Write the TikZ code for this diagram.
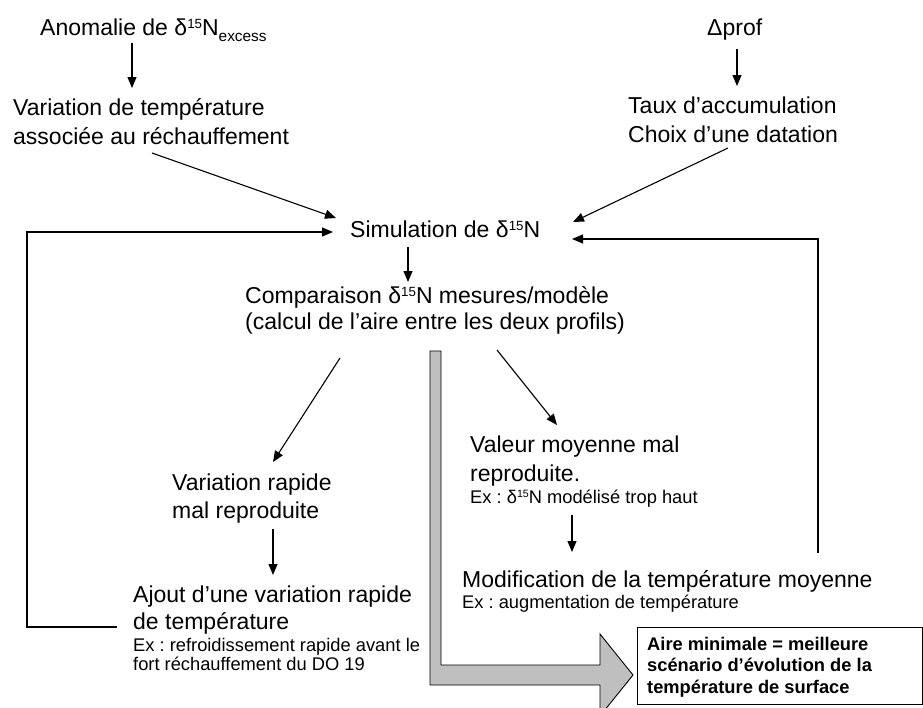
\documentclass[tikz,border=0pt]{standalone}
\usepackage{fontspec}
\usepackage{graphicx}
\setmainfont{Liberation Sans}
\usetikzlibrary{arrows.meta,calc}
\frenchspacing
\newcommand\mainsz{\fontsize{23}{29}\selectfont}
\newcommand\smallsz{\fontsize{18.3}{21}\selectfont}
\newcommand\boxsz{\fontsize{18.3}{21.5}\selectfont\bfseries}
\newcommand\dN{δ\raisebox{0.3em}{\scalebox{0.58}{15}}N}
\newcommand\subx[1]{\raisebox{-0.3em}{\scalebox{0.67}{#1}}}
\newcommand\blk[1]{\begin{tabular}[t]{@{}l@{}}#1\end{tabular}}
\tikzset{
  txt/.style={anchor=base west, inner sep=0pt, font=\mainsz},
  arr/.style={-{Triangle[length=11pt,width=9pt]}, line width=1.1pt},
  bigarrow/.style={fill=black!25, draw=black, line width=0.9pt},
  resultbox/.style={draw, line width=1.1pt, anchor=north west, inner sep=0pt,
    minimum width=285pt, minimum height=77pt},
}
\begin{document}
\begin{tikzpicture}[x=1pt,y=-1pt]
\useasboundingbox (0,0) rectangle (923,707);

% nodes
\node[txt] (anomalie) at (40,35) {Anomalie de \dN\subx{excess}};
\node[txt] (dprof) at (707,35) {Δprof};
\node[txt] (variation) at (13,115) {\blk{Variation de température\\associée au réchauffement}};
\node[txt] (taux) at (628,113) {\blk{Taux d’accumulation\\Choix d’une datation}};
\node[txt] (simulation) at (350,237) {Simulation de \dN};
\node[txt] (comparaison) at (245,303) {\blk{Comparaison \dN{} mesures/modèle\\[-3pt](calcul de l’aire entre les deux profils)}};
\node[txt] (varrapide) at (172,490) {\blk{Variation rapide\\[-1pt]mal reproduite}};
\node[txt] (valeur) at (470,452) {\blk{Valeur moyenne mal\\reproduite.\\[-7pt]{\smallsz Ex : \dN{} modélisé trop haut}}};
\node[txt] (modif) at (462,587) {\blk{Modification de la température moyenne\\[-8pt]{\smallsz Ex : augmentation de température}}};
\node[txt] (ajout) at (133,602) {\blk{Ajout d’une variation rapide\\[-2pt]de température\\[-7pt]{\smallsz Ex : refroidissement rapide avant le}\\[-10pt]{\smallsz fort réchauffement du DO 19}}};
\node[resultbox] (resbox) at (637,627) {};
\node[anchor=base west, inner sep=0pt, font=\boxsz] (restext) at (647,650)
  {\begin{tabular}[t]{@{}l@{}}Aire minimale = meilleure\\scénario d’évolution de la\\température de surface\end{tabular}};

% connectors
\draw[arr] ($(anomalie.base west)+(92,8)$) -- ($(variation.base west)+(119,-27)$);
\draw[arr] ($(dprof.base west)+(30,14)$) -- ($(taux.base west)+(109,-27)$);
\draw[arr] ($(variation.base west)+(139,38)$) -- ($(simulation.base west)+(-14,-19)$);
\draw[arr] ($(taux.base west)+(100,35)$) -- ($(simulation.base west)+(223,-15)$);
\draw[arr] ($(ajout.base west)+(-16,25)$) -- ++(-90,0) |- ($(simulation.base west)+(-17,-5)$);
\draw[arr] ($(modif.base west)+(356,-34)$) |- ($(simulation.base west)+(222,2)$);
\draw[arr] ($(simulation.base west)+(58,10)$) -- ($(comparaison.base west)+(163,-21)$);
\draw[arr] ($(comparaison.base west)+(95,55)$) -- ($(varrapide.base west)+(101,-28)$);
\draw[arr] ($(comparaison.base west)+(252,47)$) -- ($(valeur.base west)+(87,-27)$);
\draw[arr] ($(varrapide.base west)+(101,39)$) -- ($(ajout.base west)+(140,-27)$);
\draw[arr] ($(valeur.base west)+(102,63)$) -- ($(modif.base west)+(110,-35)$);

% big grey arrow from the comparison to the result box
\coordinate (gstart) at ($(comparaison.base west)+(185,48)$);
\draw[bigarrow] (gstart) -- ++(11,0) -- ++(0,314) -- ++(159,0) -- ++(0,-31)
  -- ++(33,41) -- ++(-33,41) -- ++(0,-31) -- ++(-170,0) -- cycle;
\end{tikzpicture}
\end{document}
